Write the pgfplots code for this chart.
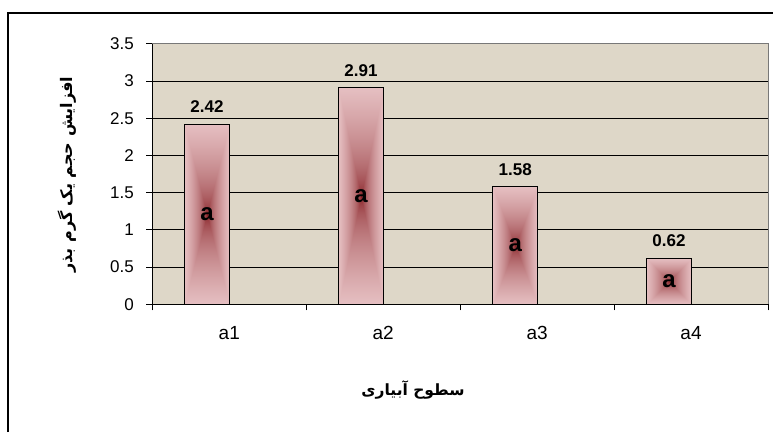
\documentclass[border=0pt]{standalone}
\usepackage{fontspec}
\setmainfont{Liberation Sans}
\newfontfamily\arabicfont[Script=Arabic]{DejaVu Sans}
\TeXXeTstate=1
\usepackage{pgfplots}
\pgfplotsset{compat=1.18}
\definecolor{bgbeige}{RGB}{222,215,200}
\definecolor{plotborder}{RGB}{120,120,120}
\pgfdeclarefunctionalshading{barshade}{\pgfpoint{0bp}{0bp}}{\pgfpoint{100bp}{100bp}}{}{
50 sub abs 25 div exch 50 sub abs 25 div 2 copy lt {exch} if pop dup 1 gt {pop 1} if sqrt dup 0.40 mul 0.50 add exch dup 0.68 mul 0.07 add exch 0.67 mul 0.09 add}
\pgfplotsset{
  barstyle/.style={ybar, bar width=0.292, draw=black, line width=1.2pt, shading=barshade,
    nodes near coords={\pgfmathprintnumber[fixed,fixed zerofill,precision=2]{\pgfplotspointmeta}},
    every node near coord/.append style={font=\bfseries\fontsize{17}{17}\selectfont, yshift=7.5pt, black}},
}
\begin{document}
\begin{tikzpicture}
\fill[white] (-152.3pt,-127.7pt) rectangle (620.7pt,304.3pt);
\draw[line width=2pt] (-144.3pt,-127.7pt) -- (-144.3pt,291.6pt) -- (620.7pt,291.6pt);
\begin{axis}[
  anchor=origin,
  scale only axis, width=615.7pt, height=260.6pt,
  xmin=0, xmax=4, ymin=0, ymax=3.5,
  clip=false,
  /pgf/number format/assume math mode=true,
  axis background/.style={fill=bgbeige},
  axis line style={draw=none},
  ytick={0,0.5,1,1.5,2,2.5,3,3.5},
  ytick pos=left, xtick pos=bottom,
  tick align=outside,
  major tick length=6pt, minor tick length=6pt,
  xtick={0.5,1.5,2.5,3.5},
  xticklabels={a1,a2,a3,a4},
  major x tick style={draw=none},
  minor xtick={0,1,2,3,4},
  minor x tick style={black, line width=0.8pt},
  major y tick style={black, line width=0.8pt},
  ymajorgrids,
  major grid style={black, line width=0.8pt},
  yticklabel style={font=\fontsize{17}{17}\selectfont, xshift=-9pt},
  xticklabel style={font=\fontsize{19}{19}\selectfont, anchor=base, yshift=-29pt},
  every axis y label/.style={at={(axis description cs:-0.1385,0.497)}, rotate=90, anchor=center, font=\fontsize{16}{16}\selectfont},
  every axis x label/.style={at={(axis description cs:0.4234,-0.329)}, anchor=center, font=\fontsize{15.5}{15.5}\selectfont},
  ylabel={\arabicfont\bfseries\beginR افزایش حجم یک گرم بذر\endR},
  xlabel={\arabicfont\bfseries\beginR سطوح آبیاری\endR},
]
\addplot[barstyle] coordinates {(0.355,2.42)};
\addplot[barstyle] coordinates {(1.356,2.91)};
\addplot[barstyle] coordinates {(2.358,1.58)};
\addplot[barstyle] coordinates {(3.357,0.62)};
\addplot[draw=none, mark=none,
  nodes near coords={a}, nodes near coords align={center},
  every node near coord/.append style={font=\bfseries\fontsize{24}{24}\selectfont, black}]
  coordinates {(0.355,1.21) (1.356,1.455) (2.358,0.79) (3.357,0.31)};
\draw[plotborder, line width=0.8pt] (rel axis cs:0,1) -- (rel axis cs:1,1) -- (rel axis cs:1,0);
\draw[black, line width=1pt] (rel axis cs:0,1) -- (rel axis cs:0,0) -- (rel axis cs:1,0);
\end{axis}
\pgfresetboundingbox
\path[use as bounding box] (-152.3pt,-127.7pt) rectangle (620.7pt,304.3pt);
\end{tikzpicture}
\end{document}
